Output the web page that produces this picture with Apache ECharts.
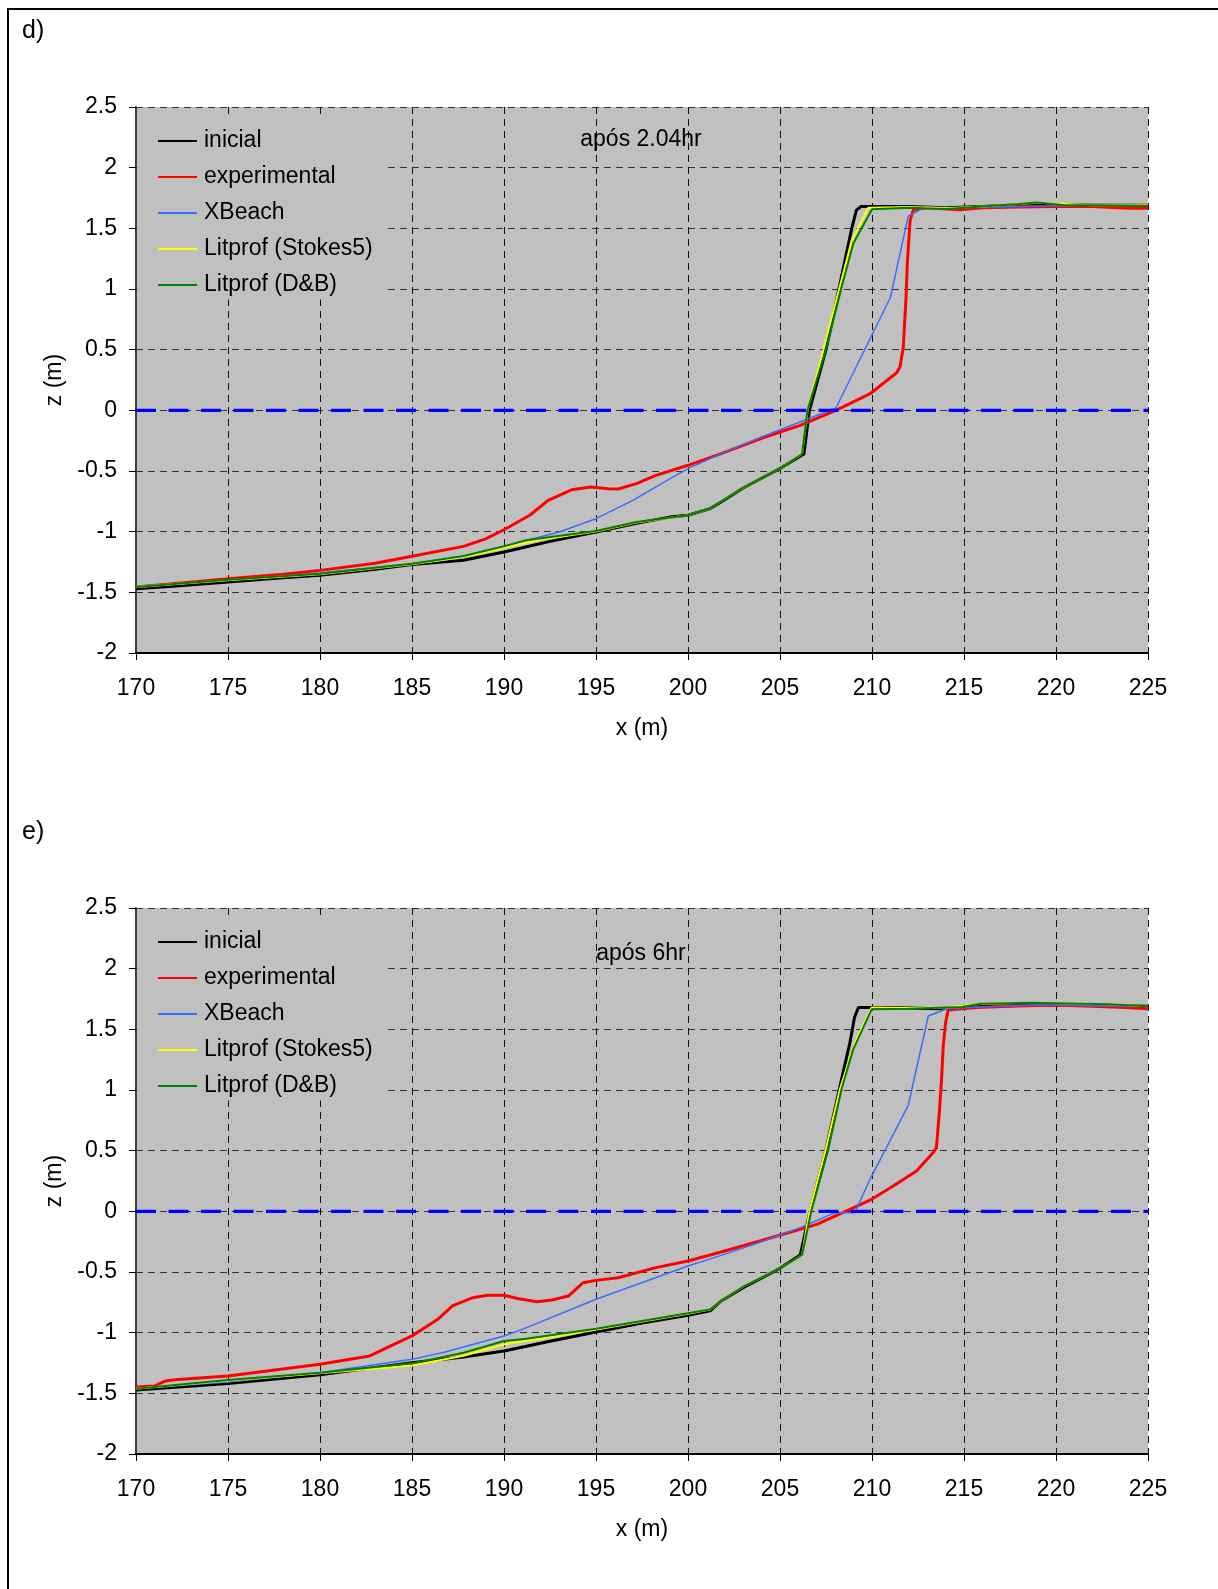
<!DOCTYPE html>
<html>
<head>
<meta charset="utf-8">
<script src="https://cdn.jsdelivr.net/npm/echarts@6/dist/echarts.min.js"></script>
<style>
html,body{margin:0;padding:0;background:#fff;}
#c{width:1218px;height:1589px;}
</style>
</head>
<body>
<div id="c"></div>
<script>
// ---------- data (x in m, z in m) ----------
const seriesNames = ['inicial', 'experimental', 'XBeach', 'Litprof (Stokes5)', 'Litprof (D&B)'];
const xTicks = [170, 225, 5];
const zTicks = [-2, 2.5, 0.5];
const zeroLine = [[170, 0], [225, 0]];
const panelLabels = ['d)', 'e)'];
const panelNotes = ['após 2.04hr', 'após 6hr'];

// panel d) after 2.04 hr
const d_inicial = [[170,-1.47],[172,-1.45],[175,-1.415],[178,-1.38],[180,-1.36],[183,-1.31],[185,-1.27],[187.8,-1.236],[190,-1.168],[192.5,-1.08],[195,-1.003],[197.2,-0.93],[199,-0.88],[200,-0.865],[201.2,-0.81],[201.8,-0.755],[203,-0.64],[204,-0.56],[205,-0.48],[206.3,-0.36],[206.6,0],[207.5,0.5],[208.2,1.0],[208.9,1.5],[209.15,1.65],[209.4,1.68],[212,1.68],[214,1.67],[216,1.68],[219,1.7],[222,1.69],[225,1.69]];
const d_experimental = [[170,-1.456],[172,-1.43],[175,-1.387],[178,-1.35],[180,-1.319],[183,-1.26],[185,-1.203],[187.8,-1.121],[189,-1.06],[190,-0.984],[191.4,-0.865],[192.4,-0.742],[193.7,-0.654],[194.7,-0.632],[195.65,-0.646],[196.2,-0.648],[197.2,-0.604],[198.25,-0.536],[200,-0.453],[201.8,-0.357],[204,-0.23],[206.1,-0.124],[208.04,0.0],[209.9,0.137],[211.34,0.31],[211.52,0.357],[211.7,0.52],[211.85,0.93],[211.92,1.21],[212.07,1.566],[212.25,1.654],[213,1.67],[214.78,1.654],[216,1.67],[218,1.675],[220,1.68],[222,1.68],[224,1.665],[225,1.665]];
const d_xbeach = [[170,-1.45],[175,-1.4],[180,-1.34],[185,-1.264],[187.8,-1.214],[190,-1.121],[193,-1.003],[195,-0.893],[197,-0.742],[198.7,-0.591],[200,-0.48],[201.8,-0.357],[204,-0.22],[206.09,-0.096],[208.04,0.019],[211.0,0.93],[211.97,1.6],[212.88,1.676],[215,1.67],[218,1.68],[222,1.69],[225,1.69]];
const d_stokes5 = [[170,-1.456],[175,-1.4],[180,-1.35],[185,-1.268],[187.8,-1.209],[190,-1.132],[192,-1.065],[195,-0.998],[197.2,-0.925],[200,-0.865],[201.2,-0.81],[201.8,-0.75],[203,-0.64],[205,-0.48],[206.2,-0.36],[206.5,0],[208.9,1.4],[209.8,1.67],[212,1.675],[214,1.665],[216,1.68],[219,1.71],[222,1.69],[225,1.69]];
const d_db = [[170,-1.456],[175,-1.396],[180,-1.346],[185,-1.264],[187.8,-1.2],[190,-1.121],[191.2,-1.07],[195,-0.995],[197.2,-0.92],[200,-0.865],[201.2,-0.81],[201.8,-0.75],[203,-0.64],[205,-0.48],[206.2,-0.36],[206.49,0],[207.5,0.5],[208.35,1.016],[208.98,1.374],[210.0,1.657],[212,1.67],[214,1.66],[216,1.68],[218,1.7],[218.95,1.712],[220.5,1.69],[222,1.69],[225,1.684]];

// panel e) after 6 hr
const e_inicial = [[170,-1.473],[175,-1.418],[180,-1.346],[185,-1.247],[187.8,-1.2],[190,-1.151],[192.5,-1.07],[195,-0.995],[197.5,-0.92],[200,-0.857],[201.2,-0.82],[201.8,-0.739],[203,-0.63],[205,-0.47],[206.1,-0.36],[206.63,0],[207.5,0.508],[208.23,1.011],[208.8,1.39],[209.05,1.6],[209.26,1.679],[211,1.68],[213.6,1.67],[216,1.69],[219,1.7],[222,1.7],[225,1.69]];
const e_experimental = [[170,-1.448],[171,-1.44],[171.6,-1.398],[172.3,-1.385],[175,-1.357],[180,-1.261],[182.7,-1.192],[185,-1.027],[186.4,-0.89],[187.2,-0.78],[188.3,-0.712],[189.1,-0.692],[190,-0.692],[190.8,-0.72],[191.8,-0.745],[192.6,-0.731],[193.5,-0.698],[194.3,-0.588],[195,-0.569],[196.2,-0.547],[198.25,-0.464],[200,-0.409],[201.8,-0.335],[204,-0.24],[206.09,-0.148],[207.0,-0.107],[208.8,0.016],[209.98,0.099],[211.15,0.209],[212.42,0.332],[213.33,0.484],[213.5,0.525],[213.66,0.813],[213.78,1.088],[213.87,1.363],[214.0,1.555],[214.14,1.66],[215.67,1.679],[217.5,1.69],[219.83,1.7],[222,1.69],[223.8,1.68],[225,1.67]];
const e_xbeach = [[170,-1.462],[175,-1.407],[180,-1.33],[185,-1.22],[186.8,-1.159],[190,-1.027],[191,-0.973],[195,-0.725],[200,-0.45],[201.8,-0.363],[204,-0.25],[206.09,-0.135],[208.0,-0.011],[209.07,-0.011],[209.89,0.264],[211.97,0.874],[213.06,1.61],[214.06,1.67],[216,1.685],[219,1.7],[222,1.695],[225,1.69]];
const e_stokes5 = [[170,-1.462],[175,-1.395],[180,-1.335],[185,-1.27],[187.8,-1.19],[190,-1.096],[192,-1.05],[195,-0.975],[200,-0.845],[201.2,-0.81],[201.8,-0.739],[203,-0.62],[205,-0.47],[206.2,-0.36],[206.6,0],[207.5,0.52],[208.26,1.01],[209.07,1.39],[209.98,1.68],[212,1.675],[214,1.68],[216,1.71],[219,1.72],[223,1.706],[225,1.69]];
const e_db = [[170,-1.462],[175,-1.39],[180,-1.33],[185,-1.253],[187.8,-1.165],[190,-1.069],[191.2,-1.05],[195,-0.967],[200,-0.84],[201.2,-0.808],[201.8,-0.739],[203,-0.62],[205,-0.47],[206.2,-0.36],[206.7,0],[207.62,0.508],[208.35,1.01],[208.98,1.335],[209.98,1.665],[212,1.67],[214,1.68],[214.9,1.684],[215.9,1.71],[218.7,1.72],[222.9,1.706],[225,1.69]];

const panels = [
  [d_inicial, d_experimental, d_xbeach, d_stokes5, d_db],
  [e_inicial, e_experimental, e_xbeach, e_stokes5, e_db]
];

// ---------- styles ----------
const FONT = '"Liberation Sans", Arial, Helvetica, sans-serif';
const FS = 23;
const colors = ['#000000', '#FF0000', '#3B6CFF', '#FFFF00', '#008000'];
const widths = [3, 3, 1.5, 2, 2];
const gridTops = [107, 908];
const GRID_LEFT = 136, GRID_W = 1012, GRID_H = 546;

const chart = echarts.init(document.getElementById('c'), null, {renderer: 'canvas'});

const grids = [], xAxes = [], yAxes = [], series = [], legends = [], graphics = [];

gridTops.forEach((top, p) => {
  grids.push({left: GRID_LEFT, top: top, width: GRID_W, height: GRID_H,
    show: true, backgroundColor: '#C0C0C0', borderWidth: 0});
  xAxes.push({
    gridIndex: p, type: 'value', min: xTicks[0], max: xTicks[1], interval: xTicks[2],
    name: 'x (m)', nameLocation: 'middle', nameGap: 64,
    nameTextStyle: {fontFamily: FONT, fontSize: FS, color: '#000'},
    axisLine: {show: true, onZero: false, lineStyle: {color: '#000', width: 2}},
    axisTick: {show: true, inside: false, length: 7, lineStyle: {color: '#000', width: 1}},
    axisLabel: {fontFamily: FONT, fontSize: FS, color: '#000', margin: 24},
    splitLine: {show: true, lineStyle: {color: '#111', type: [7, 5], width: 1}}
  });
  yAxes.push({
    gridIndex: p, type: 'value', min: zTicks[0], max: zTicks[1], interval: zTicks[2],
    name: 'z (m)', nameLocation: 'middle', nameGap: 67, nameRotate: 90,
    nameTextStyle: {fontFamily: FONT, fontSize: FS, color: '#000'},
    axisLine: {show: true, onZero: false, lineStyle: {color: '#404040', width: 2}},
    axisTick: {show: true, inside: false, length: 7, lineStyle: {color: '#000', width: 1}},
    axisLabel: {fontFamily: FONT, fontSize: FS, color: '#000', margin: 19, padding: [6, 0, 0, 0]},
    splitLine: {show: true, lineStyle: {color: '#333', type: [7, 5], width: 1}}
  });
  panels[p].forEach((data, i) => {
    series.push({
      name: seriesNames[i], type: 'line', xAxisIndex: p, yAxisIndex: p,
      data: data, showSymbol: false, symbol: 'none', smooth: false,
      lineStyle: {color: colors[i], width: widths[i]},
      itemStyle: {color: colors[i]},
      z: 3 + i, animation: false
    });
  });
  series.push({
    name: 'zero', type: 'line', xAxisIndex: p, yAxisIndex: p,
    data: zeroLine, showSymbol: false, symbol: 'none',
    lineStyle: {color: '#0000FF', width: 3.2, type: [20, 12.5]},
    z: 10, animation: false, silent: true
  });
  legends.push({
    data: seriesNames, orient: 'vertical', left: GRID_LEFT + 1.5, top: top + 8,
    padding: [14.5, 13, 3, 20.5], itemGap: 13, itemWidth: 39, itemHeight: 2, icon: 'rect',
    backgroundColor: '#C0C0C0', borderWidth: 0,
    textStyle: {fontFamily: FONT, fontSize: FS, color: '#000', lineHeight: 23, padding: [0, 0, 0, 2]},
    selectedMode: false, z: 6
  });
  graphics.push({
    type: 'text', left: 22, top: 19 + (top - gridTops[0]),
    style: {text: panelLabels[p], font: '25px ' + FONT, fill: '#000'}
  });
  graphics.push({
    type: 'text', x: 641, y: top + (p === 0 ? 33 : 46),
    style: {text: panelNotes[p], font: FS + 'px ' + FONT, fill: '#000',
      textAlign: 'center', textVerticalAlign: 'middle'}, z: 20
  });
});

// page frame: top and left edges
graphics.push({type: 'line', shape: {x1: 7, y1: 9, x2: 1218, y2: 9}, style: {stroke: '#000', lineWidth: 2}});
graphics.push({type: 'line', shape: {x1: 8, y1: 8, x2: 8, y2: 1589}, style: {stroke: '#000', lineWidth: 2}});

chart.setOption({
  animation: false,
  backgroundColor: '#fff',
  grid: grids, xAxis: xAxes, yAxis: yAxes,
  legend: legends, series: series, graphic: graphics
});
</script>
</body>
</html>
